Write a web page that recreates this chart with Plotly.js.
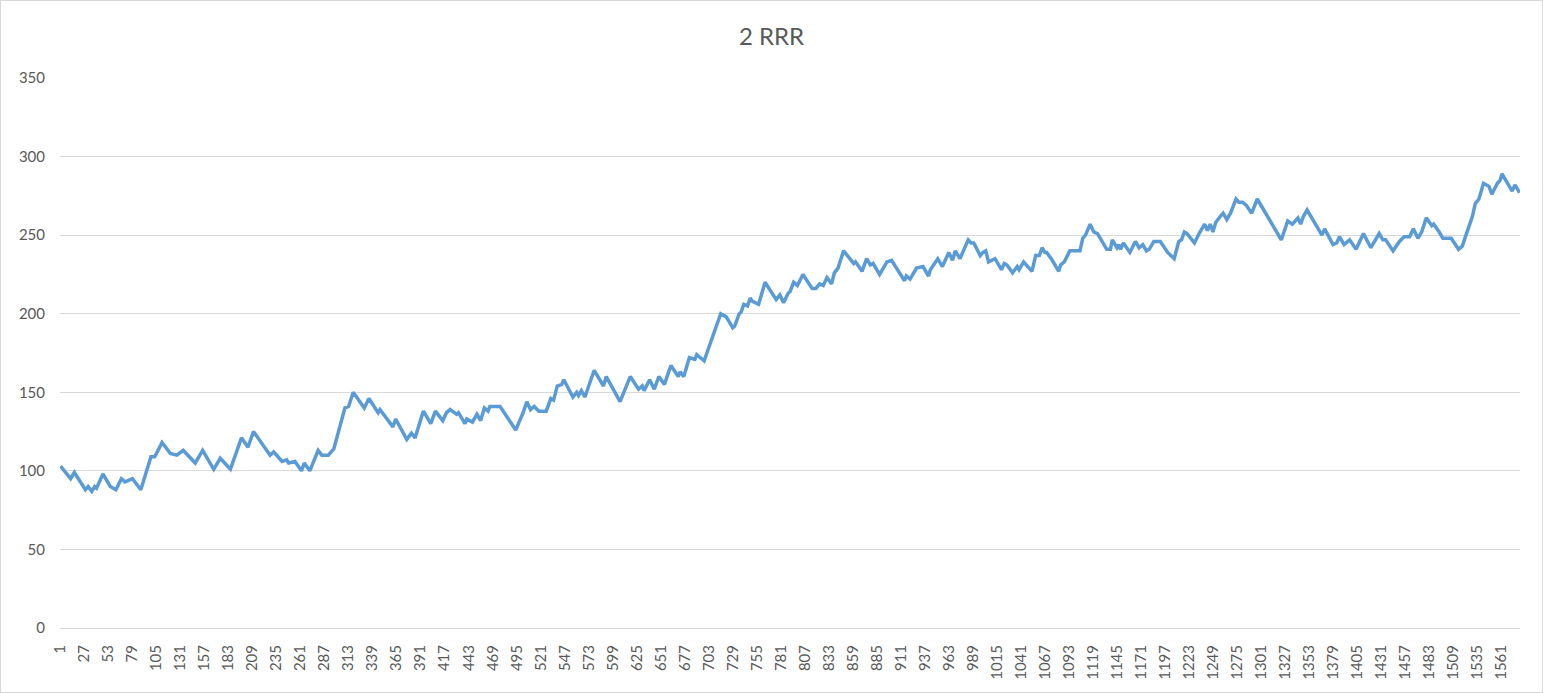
<!DOCTYPE html>
<html>
<head>
<meta charset="utf-8">
<script src="https://cdn.plot.ly/plotly-3.0.1.min.js"></script>
<style>
html,body{margin:0;padding:0;background:#fff;}
#chart{width:1541px;height:691px;border:1px solid #d9d9d9;}
</style>
</head>
<body>
<div id="chart"></div>
<script>
// Trade index (category number) of each read-off turning point
const tradeIndex = [
  1,12,16,28,31,35,38,40,47,55,61,67,71,79,88,99,103,111,120,127,134,147,155,167,174,185,
  197,204,210,219,228,232,241,246,248,255,262,265,271,280,284,291,297,309,313,318,330,335,
  345,347,361,364,376,381,385,394,402,407,415,419,423,430,432,439,441,447,452,456,460,464,
  466,477,494,502,506,510,514,519,527,532,535,539,544,546,556,560,562,565,569,573,579,589,
  592,607,614,618,627,631,633,639,644,649,655,662,670,672,676,682,688,690,694,698,707,716,
  722,729,731,736,738,741,745,748,750,757,764,773,776,780,784,789,791,795,799,805,815,819,
  823,827,831,836,839,843,849,860,862,869,874,878,881,888,896,901,907,915,917,921,928,935,
  941,943,951,956,963,967,970,975,984,987,990,997,1000,1003,1006,1013,1020,1023,1026,1032,
  1037,1039,1044,1053,1057,1061,1064,1067,1069,1075,1082,1084,1088,1094,1105,1108,1111,1116,
  1120,1124,1134,1138,1140,1145,1147,1149,1152,1159,1165,1169,1173,1177,1180,1185,1192,1200,
  1207,1212,1215,1218,1221,1229,1234,1240,1243,1246,1249,1252,1257,1260,1264,1268,1274,1277,
  1281,1285,1291,1297,1313,1323,1330,1332,1335,1341,1344,1347,1351,1360,1367,1370,1379,1383,
  1386,1391,1397,1404,1412,1420,1429,1433,1436,1444,1449,1451,1456,1462,1466,1471,1475,1480,
  1486,1488,1494,1498,1504,1507,1515,1519,1523,1530,1533,1537,1542,1548,1551,1557,1560,1562,
  1573,1576,1581
];
// Account balance at those points
const balance = [
  103,95,99,88,90,87,90,89,98,90,88,95,93,95,88,109,109,118,111,110,113,105,113,101,108,101,
  121,115,125,117,110,112,106,107,105,106,100,105,100,113,110,110,114,140,141,150,140,146,
  137,139,128,133,120,124,121,138,130,138,132,137,139,136,137,130,133,131,136,132,140,138,
  141,141,126,137,144,139,141,138,138,146,145,154,155,158,147,150,148,151,147,154,164,154,
  160,144,155,160,152,154,151,158,152,160,155,167,160,163,160,172,171,174,172,170,185,200,
  198,191,192,200,201,206,205,210,208,206,220,212,209,212,207,213,214,220,218,225,216,216,
  219,218,223,219,226,229,240,232,233,227,235,231,232,225,233,234,228,221,224,222,229,230,
  224,228,235,230,239,234,240,235,247,245,245,237,239,240,233,235,228,232,231,226,
  230,228,233,227,237,237,242,239,239,234,227,231,233,240,240,248,250,257,
  252,251,241,241,247,242,244,241,245,239,246,242,244,240,241,246,246,239,
  235,246,247,252,251,245,251,257,253,257,252,258,262,264,260,264,273,271,
  271,269,264,273,257,247,259,258,257,261,257,262,266,257,250,254,244,245,
  249,244,247,241,251,242,251,247,247,240,244,246,249,249,254,248,252,261,
  256,257,252,248,248,248,241,243,250,262,270,273,283,281,276,283,285,289,
  278,282,277
];
const totalTrades = 1581;
const tickStep = 26;
const tickValues = [];
const tickLabels = [];
for (let t = 1; t <= totalTrades; t += tickStep) { tickValues.push(t); tickLabels.push(String(t)); }
const yTicks = [0,50,100,150,200,250,300,350];

const fontFam = 'Lato, "Open Sans", "Liberation Sans", sans-serif';
const trace = {
  x: tradeIndex,
  y: balance,
  type: 'scatter',
  mode: 'lines',
  line: {color: '#5b9bd5', width: 3.5},
  hoverinfo: 'x+y'
};
const layout = {
  width: 1541,
  height: 691,
  margin: {l: 59, r: 22, t: 77, b: 64},
  paper_bgcolor: '#ffffff',
  plot_bgcolor: '#ffffff',
  showlegend: false,
  title: {text: '2 RRR', x: 0.5, xanchor: 'center', y: 0.948, yanchor: 'middle',
          font: {family: fontFam, size: 24, color: '#595959'}},
  xaxis: {
    type: 'linear',
    range: [0.5, totalTrades + 0.5],
    tickmode: 'array',
    tickvals: tickValues,
    ticktext: tickLabels,
    tickangle: -90,
    showgrid: false,
    zeroline: false,
    showline: true,
    linecolor: '#d9d9d9',
    linewidth: 1,
    ticks: '',
    ticklabelstandoff: 10,
    tickfont: {family: fontFam, size: 15, color: '#595959'}
  },
  yaxis: {
    range: [0, 350],
    tickmode: 'array',
    tickvals: yTicks,
    showgrid: true,
    gridcolor: '#d9d9d9',
    gridwidth: 1,
    zeroline: false,
    showline: false,
    ticks: '',
    ticklabelstandoff: 14,
    tickfont: {family: fontFam, size: 15, color: '#595959'}
  }
};
Plotly.newPlot('chart', [trace], layout, {displayModeBar: false, staticPlot: true});
</script>
</body>
</html>
